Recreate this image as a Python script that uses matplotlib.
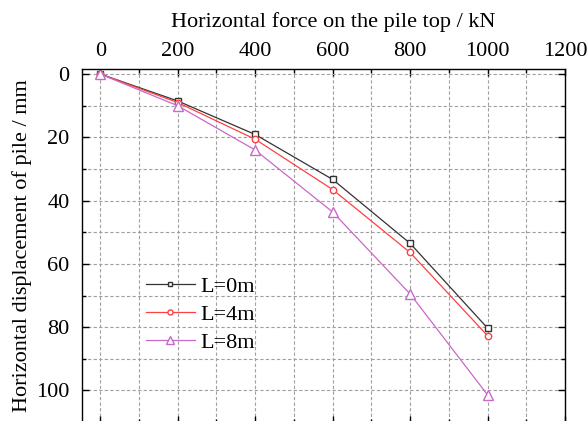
import matplotlib
matplotlib.use("Agg")
import matplotlib.pyplot as plt
from matplotlib.ticker import MultipleLocator

plt.rcParams['font.family'] = ['Liberation Serif', 'DejaVu Serif']
plt.rcParams['mathtext.fontset'] = 'stix'

force = [0, 200, 400, 600, 800, 1000]
disp_L0 = [0, 8.5, 19.1, 33.3, 53.5, 80.3]
disp_L4 = [0, 9.0, 20.6, 36.5, 56.4, 82.7]
disp_L8 = [0, 10.0, 24.0, 43.6, 69.5, 101.4]
labels = ["L=0m", "L=4m", "L=8m"]

fig = plt.figure(figsize=(5.87, 4.21), dpi=100)
ax = fig.add_axes([82 / 587, 1 - 423 / 421, (565 - 82) / 587, (423 - 69) / 421])

styles = [
    dict(color="#333333", marker="s", ms=4.4),
    dict(color="#ff4040", marker="o", ms=4.6),
    dict(color="#c868c8", marker="^", ms=6.6),
]
for y, lab, st in zip([disp_L0, disp_L4, disp_L8], labels, styles):
    ax.plot(force, y, color=st["color"], lw=0.9, marker=st["marker"],
            markersize=st["ms"], markerfacecolor="white", markeredgecolor=st["color"],
            markeredgewidth=1.0, label=lab)

ax.set_xlim(-47, 1200)
ax.set_ylim(110.3, -1.6)
ax.xaxis.set_major_locator(MultipleLocator(200))
ax.xaxis.set_minor_locator(MultipleLocator(100))
ax.yaxis.set_major_locator(MultipleLocator(20))
ax.yaxis.set_minor_locator(MultipleLocator(10))
ax.xaxis.tick_top()
ax.xaxis.set_label_position("top")
ax.tick_params(which="both", direction="in", top=True, bottom=True, left=True, right=True,
               labelsize=16, width=1.0)
ax.tick_params(which="major", length=5)
ax.tick_params(axis="x", which="major", pad=5.5)
ax.tick_params(axis="y", which="major", pad=9)
ax.tick_params(which="minor", length=3)
ax.grid(which="both", linestyle=(0, (3, 2)), color="#a0a0a0", lw=0.8)
ax.set_axisbelow(True)
for s in ax.spines.values():
    s.set_linewidth(1.0)

ax.set_xlabel("Horizontal force on the pile top / kN", fontsize=16, labelpad=11)
ax.xaxis.label.set_x(0.52)
ax.set_ylabel("Horizontal displacement of pile / mm", fontsize=16, labelpad=3)

leg = ax.legend(loc="upper left", bbox_to_anchor=((146 - 82) / 483, (423 - 276) / 354),
                frameon=False, fontsize=16, markerscale=0.8, borderpad=0,
                handlelength=2.2, handletextpad=0.25, labelspacing=0.35, borderaxespad=0)

fig.savefig("out.png", dpi=100)
